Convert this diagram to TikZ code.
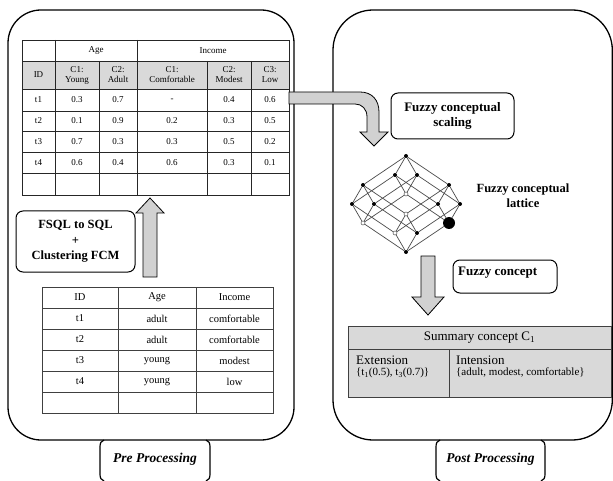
\documentclass[tikz,border=0pt]{standalone}
\usepackage{fontspec}
\setmainfont{Liberation Serif}
\begin{document}
\begin{tikzpicture}[x=1pt,y=-1pt,
  panel/.style={draw=black, line width=1.3pt},
  tabline/.style={draw=black, line width=1.2pt},
  tbl/.style={draw=black!85, line width=0.9pt},
  tblb/.style={draw=black!75, line width=0.7pt},
  cell/.style={font=\fontsize{9}{10}\selectfont, inner sep=0pt, align=center},
  bcell/.style={font=\fontsize{10.5}{12}\selectfont, inner sep=0pt, align=center},
  boxlbl/.style={draw=black, line width=1pt, rounded corners=7pt, font=\bfseries\fontsize{13}{15}\selectfont, align=center, inner sep=0pt},
  blockarrow/.style={draw=black, fill=black!18, line width=0.8pt, line join=miter},
  lnode/.style={circle, fill=black, inner sep=0pt, minimum size=4pt},
  onode/.style={circle, draw=black!70, fill=white, line width=0.5pt, inner sep=0pt, minimum size=4pt},
  latedge/.style={draw=black!70, line width=0.7pt},
  tabtxt/.style={font=\bfseries\itshape\fontsize{13.5}{15}\selectfont, inner sep=0pt}
]
\useasboundingbox (0,0) rectangle (613,481);
\fill[white] (0,0) rectangle (613,481);

% ---------- panels ----------
\draw[panel, rounded corners=33pt] (8,10) rectangle (294,440);
\draw[panel, rounded corners=40pt] (333,10) rectangle (612.3,440);

% tabs
\draw[tabline] (104,440) .. controls (101,441) and (100,443) .. (100,447) -- (100,474) .. controls (100,478) and (101,480) .. (104,481);
\draw[tabline] (206,440) .. controls (209,441) and (210,443) .. (210,447) -- (210,474) .. controls (210,478) and (209,480) .. (206,481);
\node[tabtxt] (pre) at (155,459) {Pre Processing};
\draw[tabline] (440,440) .. controls (437,441) and (436,443) .. (436,447) -- (436,474) .. controls (436,478) and (437,480) .. (440,481);
\draw[tabline] (541,440) .. controls (544,441) and (545,443) .. (545,447) -- (545,474) .. controls (545,478) and (544,480) .. (541,481);
\node[tabtxt] (post) at (490.5,459) {Post Processing};

% ---------- top table ----------
\fill[black!15] (22,61) rectangle (289,89);
\draw[tbl] (22,40) rectangle (289,195);
\foreach \yy in {61,89,111,131,152,173} \draw[tbl] (22,\yy) -- (289,\yy);
\draw[tbl] (55,40) -- (55,195);
\draw[tbl] (137,40) -- (137,195);
\draw[tbl] (99,61) -- (99,195);
\draw[tbl] (207,61) -- (207,195);
\draw[tbl] (251,61) -- (251,195);

\node[cell] (hage) at (96,50.5) {Age};
\node[cell] (hinc) at (213,50.5) {Income};
\node[cell] (hid) at (38.5,75) {ID};
\node[cell] (hc1) at (77,75) {C1:\\Young};
\node[cell] (hc2) at (118,75) {C2:\\Adult};
\node[cell] (hc3) at (172,75) {C1:\\Comfortable};
\node[cell] (hc4) at (229,75) {C2:\\Modest};
\node[cell] (hc5) at (270,75) {C3:\\Low};

\foreach \yy/\id/\a/\b/\c/\d/\e [count=\i] in {100/t1/0.3/0.7/-/0.4/0.6, 121/t2/0.1/0.9/0.2/0.3/0.5, 141.5/t3/0.7/0.3/0.3/0.5/0.2, 162.5/t4/0.6/0.4/0.6/0.3/0.1}{
  \node[cell] (r\i c0) at (38.5,\yy) {\id};
  \node[cell] (r\i c1) at (77,\yy) {\a};
  \node[cell] (r\i c2) at (118,\yy) {\b};
  \node[cell] (r\i c3) at (172,\yy) {\c};
  \node[cell] (r\i c4) at (229,\yy) {\d};
  \node[cell] (r\i c5) at (270,\yy) {\e};
}

% ---------- bottom table ----------
\draw[tblb] (42,287) rectangle (273,413);
\foreach \yy in {308,329,350,371,392} \draw[tblb] (42,\yy) -- (273,\yy);
\draw[tblb] (118,287) -- (118,413);
\draw[tblb] (196,287) -- (196,413);
\foreach \yy/\a/\b/\c [count=\i] in {297.5/ID/Age/Income, 318.5/t1/adult/comfortable, 339.5/t2/adult/comfortable, 360.5/t3/young/modest, 381.5/t4/young/low}{
  \node[bcell] (b\i a) at (80,\yy) {\a};
  \node[bcell] (b\i b) at (157,\yy) {\b};
  \node[bcell] (b\i c) at (234.5,\yy) {\c};
}

% ---------- FSQL box + up arrow ----------
\node[boxlbl, minimum width=119pt, minimum height=61pt, font=\bfseries\fontsize{12.5}{15.5}\selectfont] (fsql) at (75.5,241.5) {FSQL to SQL\\+\\Clustering FCM};
\draw[blockarrow] (143,277) -- (143,213) -- (136,213) -- (150,198) -- (164,213) -- (157,213) -- (157,277) -- cycle;

% ---------- bent arrow ----------
\draw[blockarrow] (289,92) -- (360,92) .. controls (372,92) and (379,100) .. (379,112) -- (379,132) -- (388,132) -- (374,146) -- (360,132) -- (367,132) -- (367,117) .. controls (367,109) and (362,104) .. (355,104) -- (289,104) -- cycle;

\node[boxlbl, minimum width=123pt, minimum height=46pt] (scal) at (452.5,116) {Fuzzy conceptual\\scaling};

% ---------- lattice ----------
\node[lnode] (n) at (406,156) {};
\node[lnode] (n1) at (363,185) {};
\node[lnode] (n2) at (395,175) {};
\node[lnode] (n3) at (417,175) {};
\node[lnode] (n4) at (449,185) {};
\node[lnode] (n12) at (352,204) {};
\node[lnode] (n13) at (374,204) {};
\node[onode] (n14) at (406,214) {};
\node[onode] (n23) at (406,194) {};
\node[lnode] (n24) at (438,204) {};
\node[lnode] (n34) at (460,204) {};
\node[onode] (n123) at (363,223) {};
\node[onode] (n124) at (395,233) {};
\node[lnode] (n134) at (417,233) {};
\node[lnode, minimum size=12pt] (n234) at (449,223) {};
\node[lnode] (n1234) at (406,252) {};
\foreach \a/\b in {n/n1,n/n2,n/n3,n/n4,
  n1/n12,n1/n13,n1/n14, n2/n12,n2/n23,n2/n24, n3/n13,n3/n23,n3/n34, n4/n14,n4/n24,n4/n34,
  n12/n123,n12/n124, n13/n123,n13/n134, n14/n124,n14/n134, n23/n123,n23/n234, n24/n124,n24/n234, n34/n134,n34/n234,
  n123/n1234,n124/n1234,n134/n1234,n234/n1234}
  \draw[latedge] (\a) -- (\b);

\node[font=\bfseries\fontsize{12.5}{15}\selectfont, align=center, inner sep=0pt] (latlbl) at (523,196) {Fuzzy conceptual\\lattice};

% ---------- down arrow ----------
\draw[blockarrow] (421,256) -- (435,256) -- (435,297) -- (444,297) -- (428,315) -- (412,297) -- (421,297) -- cycle;
\draw[draw=black, line width=1pt, rounded corners=7pt] (453,260) rectangle (557,293);
\node[font=\bfseries\fontsize{13}{15}\selectfont, anchor=west, inner sep=0pt] (fc) at (458,273) {Fuzzy concept};

% ---------- summary table ----------
\draw[tblb, fill=black!15] (348,326) rectangle (611,397);
\draw[tblb] (348,349) -- (611,349);
\draw[tblb] (449,349) -- (449,397);
\node[font=\fontsize{13}{15}\selectfont, inner sep=0pt] (sum) at (479.5,338) {Summary concept C\textsubscript{1}};
\node[anchor=west, inner sep=0pt, align=left] (ext) at (356,367) {{\fontsize{13}{14}\selectfont Extension}\\[-1pt]{\fontsize{11}{12}\selectfont \{t\textsubscript{1}(0.5), t\textsubscript{3}(0.7)\}}};
\node[anchor=west, inner sep=0pt, align=left] (int) at (456,367) {{\fontsize{13}{14}\selectfont Intension}\\[-1pt]{\fontsize{11}{12}\selectfont \{adult, modest, comfortable\}}};
\end{tikzpicture}
\end{document}
